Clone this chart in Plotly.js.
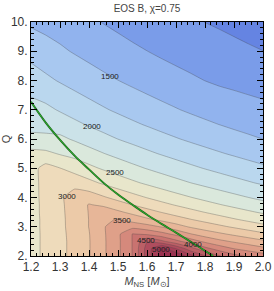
<!DOCTYPE html>
<html>
<head>
<meta charset="utf-8">
<script src="https://cdn.plot.ly/plotly-3.0.1.min.js"></script>
<style>html,body{margin:0;padding:0;background:#fff;}#chart{width:274px;height:291px;}</style>
</head>
<body>
<div id="chart"></div>
<script>
// NS mass grid (x) and mass ratio grid (y)
const massNS = [1.2, 1.25, 1.3, 1.35, 1.4, 1.45, 1.5, 1.55, 1.6, 1.65, 1.7, 1.75, 1.8, 1.85, 1.9, 1.95, 2.0];
const massRatio = [2, 2.25, 2.5, 2.75, 3, 3.25, 3.5, 3.75, 4, 4.5, 5, 5.5, 6, 6.5, 7, 8, 9, 10];

// values, one row per massRatio
const q200 = [2650, 2810, 2935, 3075, 3235, 3460, 3700, 4010, 4600, 5100, 5250, 4850, 4520, 4270, 4074, 3969, 3870];
const q225 = [2650, 2810, 2935, 3075, 3235, 3460, 3700, 4010, 4600, 5100, 4750, 4350, 4080, 3890, 3748, 3652, 3560];
const q250 = [2650, 2810, 2935, 3075, 3235, 3460, 3700, 4010, 4489, 4312, 4069, 3878, 3697, 3561, 3467, 3379, 3294];
const q275 = [2650, 2810, 2940, 3080, 3240, 3465, 3700, 4010, 3957, 3837, 3688, 3514, 3382, 3291, 3204, 3122, 3044];
const q300 = [2650, 2815, 2945, 3090, 3255, 3470, 3700, 3674, 3596, 3486, 3350, 3223, 3133, 3048, 2968, 2892, 2820];
const q325 = [2650, 2815, 2945, 3095, 3255, 3475, 3508, 3394, 3288, 3189, 3095, 3007, 2923, 2844, 2769, 2698, 2631];
const q350 = [2655, 2820, 2950, 3100, 3260, 3405, 3292, 3186, 3086, 2992, 2904, 2822, 2743, 2669, 2599, 2532, 2469];
const q375 = [2655, 2820, 2955, 3105, 3265, 3204, 3097, 2997, 2904, 2816, 2733, 2655, 2581, 2511, 2445, 2383, 2323];
const q400 = [2660, 2825, 2960, 3110, 3135, 3027, 2926, 2831, 2743, 2660, 2581, 2508, 2438, 2372, 2310, 2251, 2194];
const q450 = [2660, 2830, 2965, 2919, 2814, 2717, 2627, 2542, 2463, 2388, 2318, 2252, 2189, 2130, 2074, 2021, 1970];
const q500 = [2660, 2835, 2755, 2653, 2559, 2470, 2388, 2311, 2239, 2171, 2107, 2047, 1990, 1936, 1885, 1837, 1791];
const q550 = [2580, 2560, 2480, 2424, 2338, 2257, 2182, 2111, 2045, 1983, 1925, 1870, 1818, 1769, 1723, 1678, 1636];
const q600 = [2310, 2290, 2300, 2222, 2143, 2069, 1998, 1936, 1875, 1818, 1765, 1714, 1667, 1622, 1579, 1539, 1498];
const q650 = [2180, 2190, 2130, 2051, 1978, 1910, 1846, 1786, 1731, 1678, 1629, 1582, 1538, 1497, 1457, 1420, 1385];
const q700 = [2095, 2057, 1978, 1905, 1837, 1773, 1714, 1659, 1607, 1558, 1513, 1469, 1429, 1390, 1380, 1350, 1320];
const q800 = [1875, 1800, 1731, 1667, 1607, 1552, 1502, 1452, 1406, 1364, 1324, 1286, 1248, 1216, 1184, 1154, 1125];
const q900 = [1667, 1600, 1538, 1481, 1429, 1379, 1333, 1290, 1252, 1212, 1176, 1143, 1111, 1081, 1053, 1026, 1002];
const q1000 = [1460, 1420, 1385, 1333, 1286, 1241, 1200, 1161, 1125, 1091, 1059, 1029, 998, 973, 947, 923, 900];

// green curve
const greenM = [1.2, 1.25, 1.3, 1.35, 1.4, 1.45, 1.5, 1.55, 1.6, 1.65, 1.7, 1.75, 1.8, 1.828];
const greenQ = [7.27, 6.57, 5.97, 5.43, 4.96, 4.50, 4.10, 3.75, 3.41, 3.10, 2.80, 2.49, 2.18, 2.0];

// contour labels
const labelText = ['1500', '2000', '2500', '3000', '3500', '4000', '4500', '5000'];
const labelM = [1.472, 1.41, 1.49, 1.324, 1.514, 1.759, 1.598, 1.648];
const labelQ = [8.12, 6.44, 4.87, 4.02, 3.20, 2.40, 2.53, 2.21];

// tick labels
const xTickVals = [1.2, 1.3, 1.4, 1.5, 1.6, 1.7, 1.8, 1.9, 2.0];
const xTickText = ['1.2', '1.3', '1.4', '1.5', '1.6', '1.7', '1.8', '1.9', '2.0'];
const yTickVals = [2, 3, 4, 5, 6, 7, 8, 9, 10];
const yTickText = ['2.', '3.', '4.', '5.', '6.', '7.', '8.', '9.', '10.'];

const zGrid = [q200, q225, q250, q275, q300, q325, q350, q375, q400, q450, q500, q550, q600, q650, q700, q800, q900, q1000];

const bandColors = ['#6584e2', '#7a9ce9', '#91b3ee', '#a8c8f0', '#bad7ee', '#cbe2e8', '#dae8dc', '#e8e6cb',
  '#eedbbb', '#eccaa8', '#e7b698', '#dfa089', '#d5897c', '#c97370', '#bc5f66', '#b04d5e', '#a53e57', '#9a3150'];
const nb = bandColors.length - 1;
const colorscale = bandColors.map((c, i) => [i / nb, c]);

const font = 'Liberation Sans, Arial, Helvetica, sans-serif';

const traces = [
  {
    type: 'contour', x: massNS, y: massRatio, z: zGrid,
    autocontour: false,
    contours: {start: 1000, end: 5000, size: 250, coloring: 'fill', showlines: true},
    line: {color: 'rgba(70,70,70,0.55)', width: 0.6, smoothing: 0.4},
    colorscale: colorscale, showscale: false, hoverinfo: 'skip'
  },
  {
    type: 'scatter', mode: 'lines', x: greenM, y: greenQ,
    line: {color: '#1d5e1d', width: 1.9, shape: 'spline'}, hoverinfo: 'skip', showlegend: false
  },
  {
    type: 'scatter', mode: 'lines', x: greenM, y: greenQ,
    line: {color: '#2bb52b', width: 1.0, shape: 'spline'}, hoverinfo: 'skip', showlegend: false
  }
];

const annotations = labelText.map((t, i) => ({
  x: labelM[i], y: labelQ[i], xref: 'x', yref: 'y', text: t, showarrow: false,
  font: {family: font, size: 8, color: '#222'}
}));

const axisCommon = {
  showline: true, linecolor: '#000', linewidth: 1, mirror: 'allticks',
  ticks: 'inside', ticklen: 6, tickwidth: 1, tickcolor: '#000',
  showgrid: false, zeroline: false,
  tickfont: {family: font, size: 12, color: '#333'}
};

const layout = {
  width: 274, height: 291,
  margin: {l: 31, r: 11, t: 22, b: 35},
  paper_bgcolor: '#fff', plot_bgcolor: '#fff',
  showlegend: false,
  title: {text: 'EOS B, χ=0.75', font: {family: font, size: 10, color: '#444'},
          x: 0.5, xref: 'paper', y: 0.972, yref: 'container', yanchor: 'middle'},
  xaxis: Object.assign({}, axisCommon, {
    range: [1.2, 2.0], tickmode: 'array', tickvals: xTickVals, ticktext: xTickText,
    minor: {dtick: 0.02, tick0: 1.2, ticks: 'inside', ticklen: 3, tickcolor: '#000', tickwidth: 1},
    title: {text: '<i>M</i><sub>NS</sub> [<i>M</i><sub>⊙</sub>]', font: {family: font, size: 11, color: '#444'}, standoff: 3}
  }),
  yaxis: Object.assign({}, axisCommon, {
    range: [2, 10], tickmode: 'array', tickvals: yTickVals, ticktext: yTickText,
    minor: {dtick: 0.2, tick0: 2, ticks: 'inside', ticklen: 3, tickcolor: '#000', tickwidth: 1},
    title: {text: 'Q', font: {family: font, size: 11, color: '#444'}, standoff: 2}
  }),
  annotations: annotations
};

Plotly.newPlot('chart', traces, layout, {staticPlot: true, displayModeBar: false});
</script>
</body>
</html>
